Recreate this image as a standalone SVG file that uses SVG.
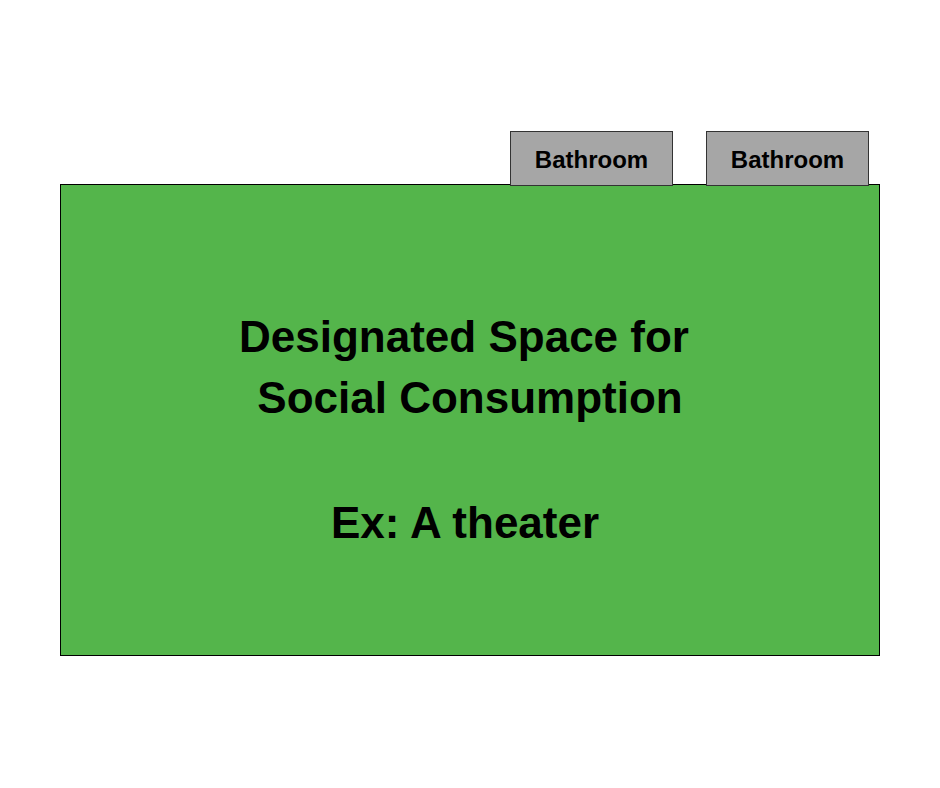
<svg xmlns="http://www.w3.org/2000/svg" width="940" height="788" viewBox="0 0 940 788">
<style>
.t{font-family:"Liberation Sans",Arial,sans-serif;font-weight:bold;fill:#000;text-anchor:middle}
.big{font-size:44px}
.small{font-size:24px}
.bath{fill:#a6a6a6;stroke:#333;stroke-width:1}
</style>
<rect width="940" height="788" fill="#fff"/>
<g id="space">
<rect x="60.5" y="184.5" width="819" height="471" fill="#54b54b" stroke="#000" stroke-width="1"/>
<text class="t big" x="464" y="352">Designated Space for</text>
<text class="t big" x="470" y="413">Social Consumption</text>
<text class="t big" x="465" y="538">Ex: A theater</text>
</g>
<g id="bathroom1">
<rect class="bath" x="510.5" y="131.5" width="162" height="54"/>
<text class="t small" x="591.5" y="167.5">Bathroom</text>
</g>
<g id="bathroom2">
<rect class="bath" x="706.5" y="131.5" width="162" height="54"/>
<text class="t small" x="787.5" y="167.5">Bathroom</text>
</g>
<g id="connectors"></g>
</svg>
